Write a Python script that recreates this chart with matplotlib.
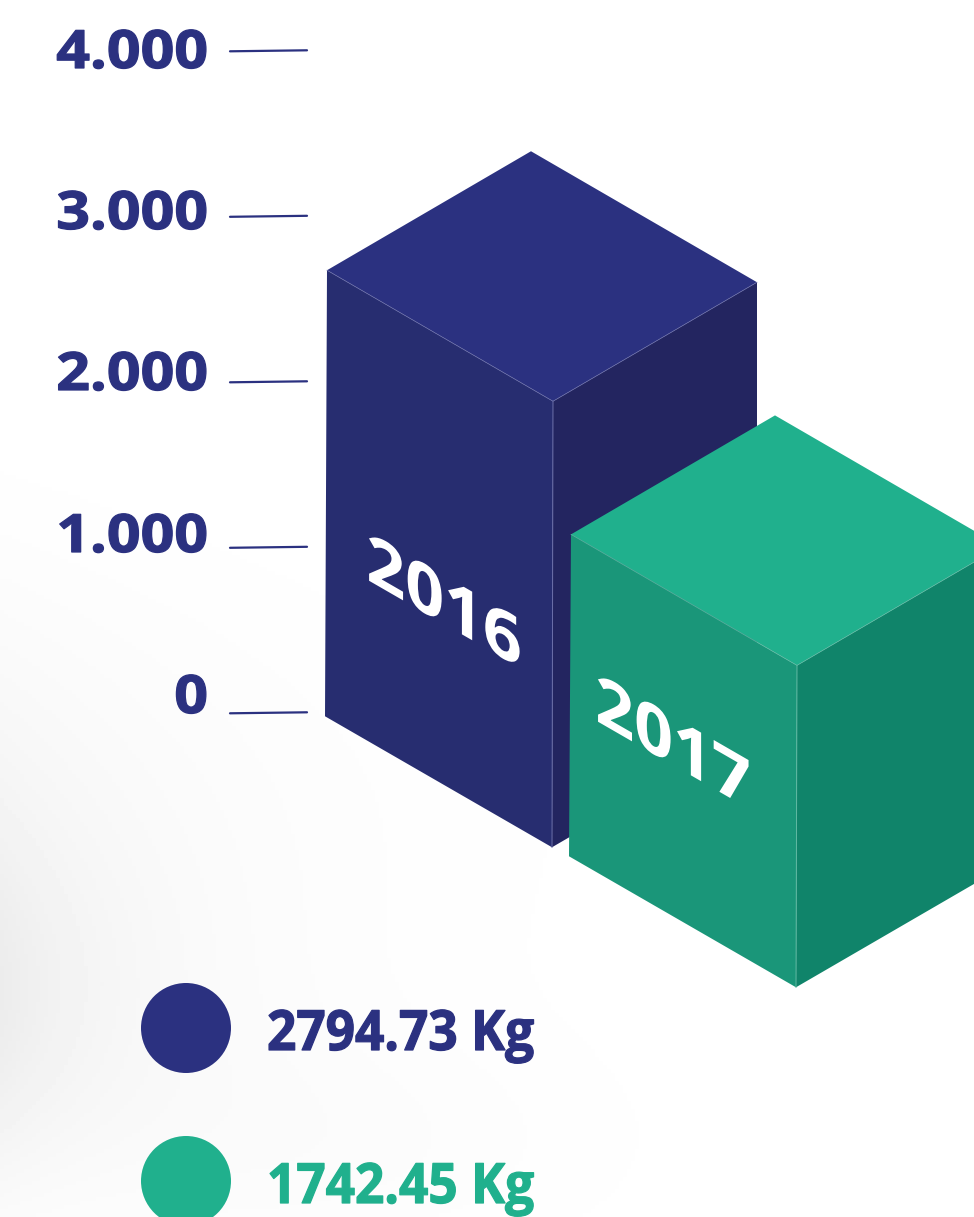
import numpy as np
import matplotlib
matplotlib.use('Agg')
import matplotlib.pyplot as plt
from matplotlib.patches import Polygon, Ellipse
from matplotlib.patheffects import AbstractPathEffect
from matplotlib.transforms import Affine2D

# axis
tick_values = [0, 1000, 2000, 3000, 4000]
tick_labels = ['0', '1.000', '2.000', '3.000', '4.000']

# bars (drawn heights are read off the axis, they do not follow the legend numbers)
years = ['2016', '2017']
drawn_heights = [2695, 1945]
base_values = [-24, -870]
left_edges = [325, 569]

# legend
legend_labels = ['2794.73 Kg', '1742.45 Kg']

navy = ['#2b3180', '#272d70', '#232560']
green = ['#20b08d', '#1a9679', '#10846a']
bar_colors = [navy, green]
edge_colors = ['#6a6ea8', '#5fb8a2']

W, H = 974, 1217
PX_PER_1000 = 165.5
ZERO_PX = 712.3
U = 1000 / PX_PER_1000  # value units per pixel


def py(px):
    # pixel row to axis value
    return (ZERO_PX - px) * U


class Warp(AbstractPathEffect):
    # squeeze and shear a text around its anchor, and thicken it a bit
    def __init__(self, ax, x, y, sx=1.0, shear=0.0, stroke=0.0):
        super().__init__()
        self.px, self.py = ax.transData.transform((x, y))
        self.m = Affine2D.from_values(sx, shear, 0, 1, 0, 0)
        self.stroke = stroke

    def draw_path(self, renderer, gc, tpath, affine, rgbFace=None):
        warp = Affine2D().translate(-self.px, -self.py) + self.m + Affine2D().translate(self.px, self.py)
        gc0 = renderer.new_gc()
        gc0.copy_properties(gc)
        if self.stroke:
            gc0.set_linewidth(self.stroke)
            gc0.set_foreground(rgbFace)
            gc0.set_joinstyle('round')
        renderer.draw_path(gc0, tpath, affine + warp, rgbFace)
        gc0.restore()


def warped_text(ax, x, y, s, sx=1.0, shear=0.0, stroke=0.0, **kw):
    t = ax.text(x, y, s, **kw)
    t.set_path_effects([Warp(ax, x, y, sx, shear, stroke)])
    return t


fig = plt.figure(figsize=(W / 100, H / 100), dpi=100)
ax = fig.add_axes([0, 0, 1, 1])
xlim = (0, W)
ylim = (py(H), py(0))
ax.set_xlim(xlim)
ax.set_ylim(ylim)
ax.axis('off')

# faint paper shading on the left
xx, yy = np.meshgrid(np.arange(0, W, 4), np.arange(0, H, 4))
shade = 0.06 * np.exp(-xx / 130) * np.exp(-((yy - 1010) / 170) ** 2)
shade += 0.03 * np.exp(-xx / 260) * np.exp(-((yy - 800) / 230) ** 2)
shade += 0.012 * np.exp(-((xx - 300) / 300) ** 2) * np.exp(-((yy - 1150) / 120) ** 2)
ax.imshow(1 - shade, cmap='gray', vmin=0, vmax=1, extent=[0, W, ylim[0], ylim[1]],
          aspect='auto', origin='upper', zorder=0)
ax.set_xlim(xlim)
ax.set_ylim(ylim)

font = 'Open Sans'

# y axis, the labels sit a little closer together than the ticks
label_rows = [692.5, 531.5, 369.5, 208.5, 47.5]
for v, lab, row in zip(tick_values, tick_labels, label_rows):
    ax.plot([230, 307], [v - 1 * U, v], color='#2b3180', lw=1.6, solid_capstyle='round', zorder=2)
    warped_text(ax, 208, py(row), lab, sx=1.12, stroke=0.9, color='#2b3180', fontsize=38, family=font,
                fontweight='bold', ha='right', va='center_baseline', zorder=2)

# isometric boxes
year_anchor = [(444, 606), (673, 747)]
for left, base, h, cols, ec, yr, pos in zip(left_edges, base_values, drawn_heights, bar_colors,
                                            edge_colors, years, year_anchor):
    top = base + h
    dx1, dy1 = 227, 131 * U
    dx2, dy2 = 205, 119 * U
    fl = [(left, base), (left + dx1, base - dy1), (left + dx1 + 1, top - dy1), (left + 2, top)]
    fr = [(left + dx1, base - dy1), (left + dx1 + dx2, base - dy1 + dy2),
          (left + dx1 + dx2, top - dy1 + dy2), (left + dx1 + 1, top - dy1)]
    ft = [(left + 2, top), (left + dx1 + 1, top - dy1),
          (left + dx1 + dx2, top - dy1 + dy2), (left + 206, top + dy2)]
    ax.add_patch(Polygon(fr, closed=True, fc=cols[2], ec='none', zorder=3))
    ax.add_patch(Polygon(fl, closed=True, fc=cols[1], ec='none', zorder=3))
    ax.add_patch(Polygon(ft, closed=True, fc=cols[0], ec='none', zorder=3))
    ax.plot([left + dx1, left + dx1 + 1], [base - dy1, top - dy1], color=ec, lw=0.7, zorder=4)
    ax.plot([left + 2, left + dx1 + 1, left + dx1 + dx2],
            [top, top - dy1, top - dy1 + dy2], color=ec, lw=0.5, zorder=4)
    # year on the left face, along its slope
    warped_text(ax, pos[0], py(pos[1]), yr, sx=1.0, shear=-131 / 227, color='white', fontsize=49,
                family=font, fontweight='bold', ha='center', va='center', zorder=5)

# legend
for i, lab in enumerate(legend_labels):
    y_px = [1028, 1181][i]
    col = bar_colors[i][0]
    ax.add_patch(Ellipse((186, py(y_px)), 90, 90 * U, fc=col, ec='none', zorder=3))
    warped_text(ax, 267, py(y_px + 22), lab, sx=0.925, stroke=0.9, color=col, fontsize=40, family=font,
                fontweight='bold', ha='left', va='baseline', zorder=3)

fig.savefig('out.png', dpi=100)
